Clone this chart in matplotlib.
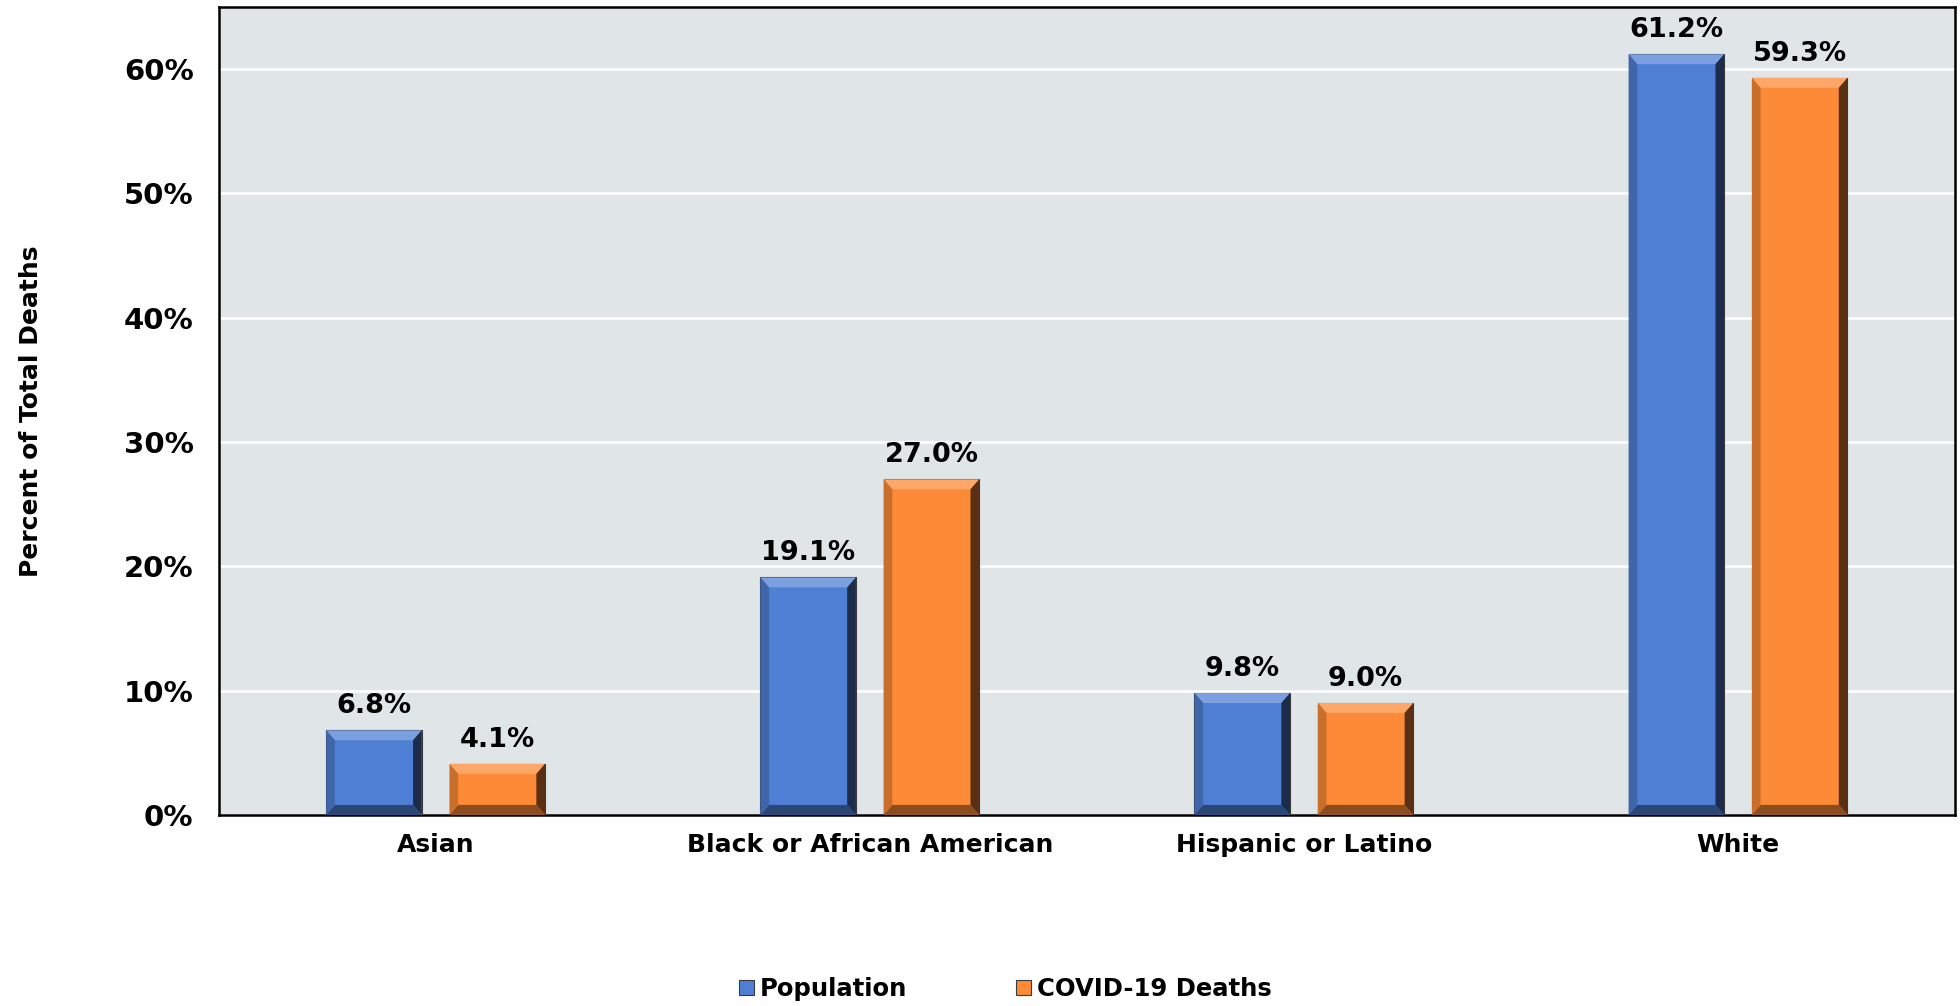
import numpy as np
import matplotlib.pyplot as plt
from matplotlib.patches import Polygon
from matplotlib.colors import to_rgb

plt.rcParams['font.family'] = ['DejaVu Sans']
plt.rcParams['font.weight'] = 'bold'

groups = ['Asian', 'Black or African American', 'Hispanic or Latino', 'White']
population = [6.8, 19.1, 9.8, 61.2]
covid_deaths = [4.1, 27.0, 9.0, 59.3]
series_names = ['Population', 'COVID-19 Deaths']
colors = ['#4f7fd4', '#fd8a36']


def shade(c, f):
    r, g, b = to_rgb(c)
    if f >= 1:
        return tuple(v + (1 - v) * (f - 1) for v in (r, g, b))
    return (r * f, g * f, b * f)


def bevel_bar(ax, x, w, h, color, dx=0.02, dy=0.8):
    x0, x1 = x - w / 2, x + w / 2
    dy = min(dy, h / 3)
    faces = [
        ([(x0, h), (x1, h), (x1 - dx, h - dy), (x0 + dx, h - dy)], 1.25),   # top
        ([(x1, h), (x1, 0), (x1 - dx, dy), (x1 - dx, h - dy)], 0.35),       # right
        ([(x0, 0), (x1, 0), (x1 - dx, dy), (x0 + dx, dy)], 0.55),           # bottom
        ([(x0, h), (x0, 0), (x0 + dx, dy), (x0 + dx, h - dy)], 0.8),        # left
    ]
    for pts, f in faces:
        ax.add_patch(Polygon(pts, closed=True, facecolor=shade(color, f),
                             edgecolor='none', zorder=4))


fig = plt.figure(figsize=(19.6, 10.06), dpi=100)
ax = fig.add_axes([0.1115, 0.19, 0.886, 0.803])
ax.set_facecolor('#e0e6e8')

x = np.arange(len(groups))
width = 0.22
offset = 0.142
handles = []
for vals, off, col, name in zip([population, covid_deaths], [-offset, offset], colors, series_names):
    bars = ax.bar(x + off, vals, width, color=col, edgecolor='#3a3a3a', linewidth=0.8,
                  zorder=3, label=name)
    handles.append(bars)
    for xi, v in zip(x + off, vals):
        bevel_bar(ax, xi, width, v, col)
        ax.text(xi, v + 0.9, f'{v:.1f}%', ha='center', va='bottom',
                fontsize=19.5, fontweight='bold', zorder=5)

ax.set_xlim(-0.5, 3.5)
ax.set_ylim(0, 65)
ax.set_yticks(np.arange(0, 61, 10))
ax.set_yticklabels([f'{t}%' for t in range(0, 61, 10)])
ax.set_xticks(x)
ax.set_xticklabels(groups)
ax.tick_params(axis='y', length=0, labelsize=21, pad=18)
ax.tick_params(axis='x', length=0, labelsize=18, pad=13)
ax.yaxis.grid(True, color='white', linewidth=1.8, zorder=0)
ax.set_axisbelow(True)
for s in ax.spines.values():
    s.set_color('black')
    s.set_linewidth(1.8)

ax.set_ylabel('Percent of Total Deaths', fontsize=18, fontweight='bold')
ax.yaxis.set_label_coords(-0.101, 0.5)

fig.legend(handles, series_names, loc='center', bbox_to_anchor=(0.513, 0.017), ncol=2,
           frameon=False, fontsize=17.5, handlelength=0.6, handleheight=0.6,
           handletextpad=0.25, columnspacing=4.5)

fig.savefig('out.png', dpi=100)
